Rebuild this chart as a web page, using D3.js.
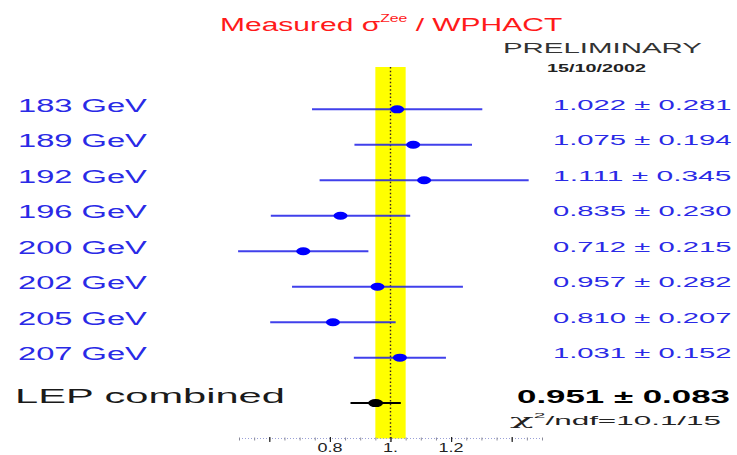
<!DOCTYPE html>
<html>
<head>
<meta charset="utf-8">
<script src="https://cdn.jsdelivr.net/npm/d3@7"></script>
<style>
  html, body { margin: 0; padding: 0; background: #fff; }
  svg { display: block; font-family: "Liberation Sans", Arial, Helvetica, sans-serif; }
</style>
</head>
<body>
<svg id="chart" width="737" height="455"></svg>
<script>
// ---------------- data ----------------
const energies = ["183 GeV", "189 GeV", "192 GeV", "196 GeV", "200 GeV", "202 GeV", "205 GeV", "207 GeV"];
const ratios   = [1.022, 1.075, 1.111, 0.835, 0.712, 0.957, 0.810, 1.031];
const errors   = [0.281, 0.194, 0.345, 0.230, 0.215, 0.282, 0.207, 0.152];
const combinedLabel = "LEP combined";
const combinedValue = 0.951;
const combinedError = 0.083;
const chi2 = 10.1;
const ndf = 15;
const theoryBand = [0.95, 1.05];
const xDomain = [0.5, 1.5];
const minorTicks = d3.range(0, 21).map(i => +(0.5 + i * 0.05).toFixed(2));
const majorTicks = [0.6, 0.8, 1.0, 1.2, 1.4];
const tickLabelValues = [0.8, 1.0, 1.2];
const tickLabelTexts  = ["0.8", "1.", "1.2"];

// ---------------- setup ----------------
const svg = d3.select("#chart");
const x = d3.scaleLinear().domain(xDomain).range([239, 542]);
const y = d3.scaleLinear().domain([0, energies.length - 1]).range([109.3, 357.7]);
const yCombined = y(8.28);
const axisY = 438.5;
const bandTop = 67;

const blue = "#1e1ee8";

// text stretched horizontally to a target width (the original is wide-set)
function stretchText(parent, px, py, width, build) {
  const g = parent.append("g");
  const t = g.append("text").attr("x", 0).attr("y", 0);
  build(t);
  const w = t.node().getBBox().width;
  const s = width / w;
  g.attr("transform", `translate(${px},${py}) scale(${s},1)`);
  return g;
}

// ---------------- theory band + reference line ----------------
svg.append("rect")
  .attr("x", x(theoryBand[0]))
  .attr("width", x(theoryBand[1]) - x(theoryBand[0]))
  .attr("y", bandTop)
  .attr("height", axisY - bandTop)
  .attr("fill", "#ffff00");

svg.append("line")
  .attr("x1", x(1)).attr("x2", x(1))
  .attr("y1", bandTop).attr("y2", axisY + 3)
  .attr("stroke", "#3a2020")
  .attr("stroke-width", 1.4)
  .attr("stroke-dasharray", "1.5,2.2");

// ---------------- axis ----------------
svg.append("line")
  .attr("x1", x(xDomain[0])).attr("x2", x(xDomain[1]))
  .attr("y1", axisY).attr("y2", axisY)
  .attr("stroke", "#9aa0d8")
  .attr("stroke-width", 1)
  .attr("stroke-dasharray", "1,2");

const minorAxis = svg.append("g")
  .attr("transform", `translate(0,${axisY - 1})`)
  .call(d3.axisBottom(x).tickValues(minorTicks).tickSize(3).tickFormat(""));
minorAxis.select(".domain").remove();
minorAxis.selectAll(".tick line").attr("stroke", "#8a8a9a").attr("stroke-width", 1);

const majorAxis = svg.append("g")
  .attr("transform", `translate(0,${axisY - 1.5})`)
  .call(d3.axisBottom(x).tickValues(majorTicks).tickSize(5).tickFormat(""));
majorAxis.select(".domain").remove();
majorAxis.selectAll(".tick line").attr("stroke", "#222").attr("stroke-width", 1.2);

tickLabelValues.forEach((v, i) => {
  const g = svg.append("g").attr("transform", `translate(${x(v)},451.5) scale(1.5,1)`);
  g.append("text")
    .attr("text-anchor", "middle")
    .attr("font-size", 12)
    .attr("fill", "#222")
    .text(tickLabelTexts[i]);
});

// ---------------- error bars ----------------
const rows = energies.map((e, i) => ({ label: e, value: ratios[i], error: errors[i], i }));

svg.append("g").selectAll("line")
  .data(rows)
  .join("line")
  .attr("x1", d => x(d.value - d.error))
  .attr("x2", d => x(d.value + d.error))
  .attr("y1", d => y(d.i))
  .attr("y2", d => y(d.i))
  .attr("stroke", blue)
  .attr("stroke-opacity", 0.85)
  .attr("stroke-width", 2);

svg.append("g").selectAll("ellipse")
  .data(rows)
  .join("ellipse")
  .attr("cx", d => x(d.value))
  .attr("cy", d => y(d.i))
  .attr("rx", 7)
  .attr("ry", 4)
  .attr("fill", "#0000ff");

// combined
svg.append("line")
  .attr("x1", x(combinedValue - combinedError))
  .attr("x2", x(combinedValue + combinedError))
  .attr("y1", yCombined).attr("y2", yCombined)
  .attr("stroke", "#000")
  .attr("stroke-width", 2);
svg.append("ellipse")
  .attr("cx", x(combinedValue))
  .attr("cy", yCombined)
  .attr("rx", 7.5)
  .attr("ry", 4)
  .attr("fill", "#000");

// ---------------- row labels ----------------
rows.forEach(d => {
  stretchText(svg, 18, y(d.i) + 2.5, 129, t =>
    t.attr("font-size", 18).attr("fill", "#2a2ae6").text(d.label));
  stretchText(svg, 553, y(d.i) + 0.5, 179, t =>
    t.attr("font-size", 14).attr("fill", "#2a2ae6")
     .text(`${d.value.toFixed(3)} \u00B1 ${d.error.toFixed(3)}`));
});

stretchText(svg, 15, yCombined, 270, t =>
  t.attr("font-size", 20).attr("fill", "#1a1a1a").text(combinedLabel));
stretchText(svg, 517, yCombined, 213, t =>
  t.attr("font-size", 18).attr("font-weight", "bold").attr("fill", "#000")
   .text(`${combinedValue.toFixed(3)} \u00B1 ${combinedError.toFixed(3)}`));

stretchText(svg, 510, 425, 212, t => {
  t.attr("font-size", 12).attr("fill", "#222");
  t.append("tspan").attr("font-family", "'DejaVu Serif', serif").attr("font-size", 15).text("\u03C7");
  t.append("tspan").attr("font-size", 8).attr("dy", -7).text("2");
  t.append("tspan").attr("dy", 7).text(`/ndf=${chi2}/${ndf}`);
});

// ---------------- title & annotations ----------------
stretchText(svg, 220, 31, 343, t => {
  t.attr("font-size", 19).attr("fill", "#ff1a1a");
  t.append("tspan").text("Measured \u03C3");
  t.append("tspan").attr("font-size", 10).attr("dy", -9).text("Zee");
  t.append("tspan").attr("dy", 9).text(" / WPHACT");
});

stretchText(svg, 503, 53, 199, t =>
  t.attr("font-size", 15).attr("fill", "#333").text("PRELIMINARY"));
stretchText(svg, 547, 72, 100, t =>
  t.attr("font-size", 10).attr("font-weight", "bold").attr("fill", "#222").text("15/10/2002"));
</script>
</body>
</html>
